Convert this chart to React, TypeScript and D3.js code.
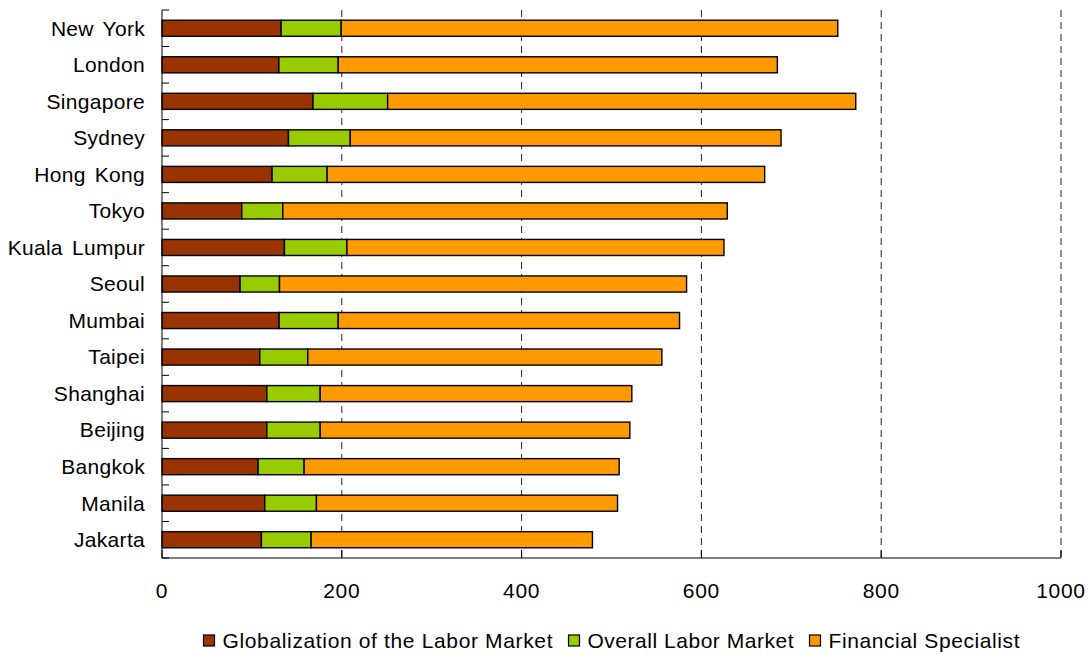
import React from "react";
import * as d3 from "d3";

const cities = [
  "New York", "London", "Singapore", "Sydney", "Hong Kong", "Tokyo", "Kuala Lumpur",
  "Seoul", "Mumbai", "Taipei", "Shanghai", "Beijing", "Bangkok", "Manila", "Jakarta",
];
const globalization = [132.5, 130, 168, 140.7, 122.5, 88.7, 136.2, 86.9, 130.3, 108.8, 116.6, 116.6, 106.9, 114.3, 110.6];
const overall = [66.8, 66, 83, 68.7, 61.2, 45.7, 69.5, 43.8, 65.7, 53.4, 59.4, 59.4, 51.2, 57.5, 55.3];
const financial = [552.4, 488.5, 520.7, 479.2, 486.7, 494.4, 419.4, 452.8, 379.7, 393.8, 346.6, 344.4, 350.4, 334.9, 312.9];

const seriesNames = ["Globalization of the Labor Market", "Overall Labor Market", "Financial Specialist"];
const seriesColors = ["#993300", "#99CC00", "#FF9900"];
const xTicks = [0, 200, 400, 600, 800, 1000];

const W = 1090;
const H = 655;
const left = 162;
const right = 1061;
const top = 10;
const bottom = 558;
const FONT = "'Liberation Sans', Arial, sans-serif";

export default function App() {
  const x = d3.scaleLinear().domain([0, 1000]).range([left, right]);
  const y = d3.scaleBand<string>().domain(cities).range([top, bottom]).paddingInner(0.56).paddingOuter(0.28);

  const rows = cities.map((c, i) => ({ city: c, g: globalization[i], o: overall[i], f: financial[i] }));
  const stack = d3.stack<any>().keys(["g", "o", "f"])(rows);

  const step = y.step();
  const boundaries = d3.range(cities.length + 1).map((i) => top + i * step);

  // legend layout: swatch, label, then a gap before the next entry
  const textWidths = [330, 206, 191];
  const box = 11;
  const textGap = 8;
  const itemGap = 16;
  const total = textWidths.reduce((a, b) => a + b, 0) + 3 * (box + textGap) + 2 * itemGap;
  let lx = (left + right) / 2 - total / 2;
  const legendItems = seriesNames.map((n, i) => {
    const item = { name: n, color: seriesColors[i], x: lx, w: textWidths[i] };
    lx += box + textGap + textWidths[i] + itemGap;
    return item;
  });

  return (
    <div style={{ position: "absolute", left: 0, top: 0 }}>
      <svg width={W} height={H} style={{ display: "block", background: "#fff" }}>
        {/* dashed gridlines */}
        {xTicks.filter((t) => t > 0).map((t) => (
          <line key={"g" + t} x1={x(t)} x2={x(t)} y1={top} y2={bottom} stroke="#222" strokeWidth={1} strokeDasharray="7,5" />
        ))}
        {/* bars */}
        {stack.map((layer, li) => (
          <g key={li}>
            {layer.map((d: any, i: number) => (
              <rect
                key={i}
                x={x(d[0])}
                y={y(cities[i])!}
                width={x(d[1]) - x(d[0])}
                height={y.bandwidth()}
                fill={seriesColors[li]}
                stroke="#000"
                strokeWidth={1.4}
              />
            ))}
          </g>
        ))}
        {/* y axis */}
        <line x1={left} x2={left} y1={top} y2={bottom} stroke="#000" strokeWidth={1} />
        {boundaries.map((b, i) => (
          <line key={"yt" + i} x1={left} x2={left + 7} y1={b} y2={b} stroke="#000" strokeWidth={1} />
        ))}
        {cities.map((c) => (
          <text key={c} x={145} y={y(c)! + y.bandwidth() / 2} dy="0.35em" textAnchor="end" fontFamily={FONT} fontSize={21} letterSpacing={0.3} wordSpacing={3} fill="#000">
            {c}
          </text>
        ))}
        {/* x axis */}
        <line x1={left} x2={right} y1={bottom} y2={bottom} stroke="#000" strokeWidth={1} />
        {xTicks.map((t) => (
          <g key={"xt" + t}>
            <line x1={x(t)} x2={x(t)} y1={bottom} y2={bottom - 8} stroke="#000" strokeWidth={1} />
            <text x={x(t)} y={598} textAnchor="middle" fontFamily={FONT} fontSize={21} letterSpacing={0.7} fill="#000">
              {t}
            </text>
          </g>
        ))}
        {/* legend */}
        {legendItems.map((it) => (
          <g key={it.name}>
            <rect x={it.x} y={635} width={box} height={box} fill={it.color} stroke="#000" strokeWidth={1.2} />
            <text x={it.x + box + textGap} y={648} fontFamily={FONT} fontSize={21} textLength={it.w} lengthAdjust="spacing" fill="#000">
              {it.name}
            </text>
          </g>
        ))}
      </svg>
    </div>
  );
}
